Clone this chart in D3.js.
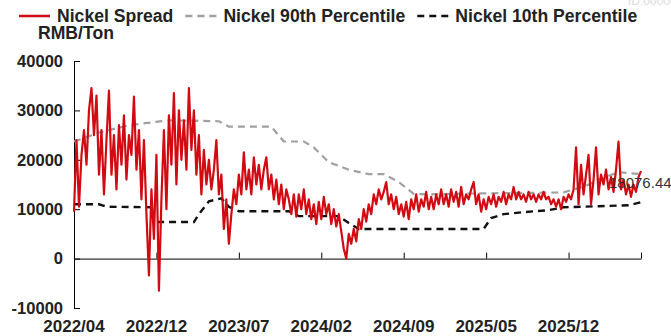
<!DOCTYPE html>
<meta charset="utf-8" />
<style>
  body { margin: 0; background: #fff; }
  svg text { font-family: "Liberation Sans", Arial, sans-serif; }
  .axis path, .axis line { stroke: #000; stroke-width: 1px; }
</style>

<svg width="671" height="336"></svg>

<script src="https://d3js.org/d3.v7.min.js"></script>
<script>
  // daily-ish nickel spread, RMB/Ton
  var spread = [
    9500, 24000, 10500, 21000, 26000, 19000, 30000, 34500, 25000, 33000,
    17000, 26000, 13000, 24000, 34000, 17000, 25000, 14000, 27000, 19000,
    29000, 16000, 25000, 21000, 32800, 18000, 26000, 12000, 24000, 9000,
    -3400, 14000, 4000, 21000, -6500, 12000, 26000, 10000, 29000, 19000,
    33500, 15000, 30000, 20000, 28000, 18000, 34500, 22000, 30000, 17000,
    25000, 13000, 22000, 15000, 20000, 14000, 18000, 24000, 13000, 17000,
    6000, 12000, 3000, 9000, 14000, 11000, 17000, 13000, 21500, 14000,
    18000, 13000, 20500, 15000, 19000, 14000, 18000, 20500, 14000, 17000,
    12000, 16000, 11000, 15000, 10000, 14000, 12000, 9000, 13000, 8500,
    13000, 10000, 14000, 9000, 12000, 8000, 11000, 7000, 11500, 8000,
    12500, 9000, 11000, 7000, 10000, 6500, 9000, 5500, 2000, 0,
    5000, 3000, 6000, 3500, 8000, 6000, 10000, 7500, 11000, 9000,
    13000, 11000, 14000, 12000, 13500, 15500, 11000, 13000, 10000, 12500,
    9000, 11000, 8500, 11500, 8000, 12000, 10000, 13000, 9500, 12000,
    10500, 13500, 10000, 12500, 10000, 13000, 11000, 14000, 11000, 13000,
    10500, 14000, 11500, 13500, 10500, 14500, 11000, 13000, 12000, 14000,
    15500, 11000, 13000, 9500, 12000, 10000, 12500, 11000, 13000, 10500,
    12500, 11500, 13500, 11000, 13000, 12000, 14500, 12000, 13500, 12000,
    13000, 11500, 13500, 12000, 13000, 11500, 13000, 12000, 13500, 12000,
    12500, 11000, 12000, 10500, 12000, 10000, 12500, 11500, 13000, 12000,
    14000, 22500, 11000, 19000, 13000, 17000, 21000, 11000, 16000, 22500,
    13000, 17000, 15000, 18000, 14000, 16500, 13500, 18000, 23700, 14000,
    16000, 13000, 15000, 12500, 15000, 13500, 16500, 17700
  ];

  // percentile bands: [point index, value]
  var p90 = [
    [0, 23700], [10, 25500], [22, 27000], [38, 28000], [58, 27800],
    [62, 26700], [79, 26700], [84, 23700], [92, 23700], [96, 22500],
    [102, 19500], [110, 18000], [118, 17100], [124, 17100], [130, 15500],
    [136, 13100], [142, 13000], [162, 13200], [182, 13300], [196, 13400],
    [205, 14700], [210, 16000], [218, 17500], [227, 17100]
  ];
  var p10 = [
    [0, 11000], [10, 11000], [13, 10500], [31, 10400], [32, 7400],
    [48, 7400], [50, 9000], [54, 11600], [59, 12200], [62, 10500],
    [66, 9600], [86, 9600], [90, 8600], [106, 8600], [110, 7200],
    [114, 6000], [164, 6000], [167, 8200], [172, 9000], [180, 9400],
    [190, 9800], [196, 10400], [210, 10600], [222, 10800], [227, 11400]
  ];

  var xLabels = ["2022/04", "2022/12", "2023/07", "2024/02", "2024/09", "2025/05", "2025/12"];
  var labelStep = 33;
  var yTicks = [-10000, 0, 10000, 20000, 30000, 40000];
  var lastValue = "18076.44";

  var seriesNames = ["Nickel Spread", "Nickel 90th Percentile", "Nickel 10th Percentile"];
  var seriesColors = ["#d20a12", "#a0a0a0", "#111111"];
  var seriesDash = [null, "7,5", "7,5"];

  var svg = d3.select("svg");

  var x = d3.scaleLinear().domain([0, spread.length - 1]).range([74, 641]);
  var y = d3.scaleLinear().domain([-10000, 40000]).range([308, 61]);

  // watermark, mostly cut off at the top
  svg.append("text")
    .attr("x", 628).attr("y", 5)
    .attr("fill", "#dcdcdc")
    .style("font-size", "12px")
    .text("ID:000000");

  // y axis, ticks pointing inward
  var yAxis = svg.append("g")
    .attr("class", "axis")
    .attr("transform", "translate(74,0)")
    .call(d3.axisLeft(y).tickValues(yTicks).tickSizeInner(-6).tickSizeOuter(0).tickPadding(11)
      .tickFormat(function (d) { return String(d); }));
  yAxis.selectAll("text")
    .attr("fill", "#222")
    .style("font-size", "16.5px")
    .style("font-weight", "bold");

  // x axis on the zero line
  var tickIdx = xLabels.map(function (d, i) { return i * labelStep; });
  tickIdx.push(spread.length - 1);
  svg.append("g")
    .attr("class", "axis")
    .attr("transform", "translate(0," + y(0) + ")")
    .call(d3.axisBottom(x).tickValues(tickIdx).tickSizeInner(-6).tickSizeOuter(0).tickFormat(""));

  svg.append("g")
    .selectAll("text")
    .data(xLabels)
    .enter()
    .append("text")
    .attr("x", function (d, i) { return x(i * labelStep); })
    .attr("y", 332)
    .attr("text-anchor", "middle")
    .attr("fill", "#222")
    .style("font-size", "17px")
    .style("font-weight", "bold")
    .text(function (d) { return d; });

  var lineIdx = d3.line()
    .x(function (d) { return x(d[0]); })
    .y(function (d) { return y(d[1]); });

  svg.append("path")
    .datum(p90)
    .attr("fill", "none")
    .attr("stroke", seriesColors[1])
    .attr("stroke-width", 2.2)
    .attr("stroke-dasharray", seriesDash[1])
    .attr("d", lineIdx);

  svg.append("path")
    .datum(p10)
    .attr("fill", "none")
    .attr("stroke", seriesColors[2])
    .attr("stroke-width", 2.4)
    .attr("stroke-dasharray", seriesDash[2])
    .attr("d", lineIdx);

  svg.append("path")
    .datum(spread)
    .attr("fill", "none")
    .attr("stroke", seriesColors[0])
    .attr("stroke-width", 2.2)
    .attr("stroke-linejoin", "round")
    .attr("d", d3.line()
      .x(function (d, i) { return x(i); })
      .y(function (d) { return y(d); }));

  svg.append("text")
    .attr("x", x(spread.length - 1) - 32)
    .attr("y", y(+lastValue) + 19)
    .attr("fill", "#333")
    .style("font-size", "15px")
    .text(lastValue);

  // legend
  var legend = svg.append("g").attr("class", "legend");
  var lx = 19;
  seriesNames.forEach(function (name, i) {
    legend.append("line")
      .attr("x1", lx).attr("x2", lx + 31)
      .attr("y1", 16).attr("y2", 16)
      .attr("stroke", seriesColors[i])
      .attr("stroke-width", i == 0 ? 2.5 : 2.4)
      .attr("stroke-dasharray", seriesDash[i]);
    var t = legend.append("text")
      .attr("x", lx + 38)
      .attr("y", 22)
      .attr("fill", "#222")
      .style("font-size", "17.6px")
      .style("font-weight", "bold")
      .text(name);
    lx += 38 + t.node().getComputedTextLength() + 12;
  });

  svg.append("text")
    .attr("x", 38)
    .attr("y", 39)
    .attr("fill", "#222")
    .style("font-size", "17.6px")
    .style("font-weight", "bold")
    .text("RMB/Ton");
</script>
